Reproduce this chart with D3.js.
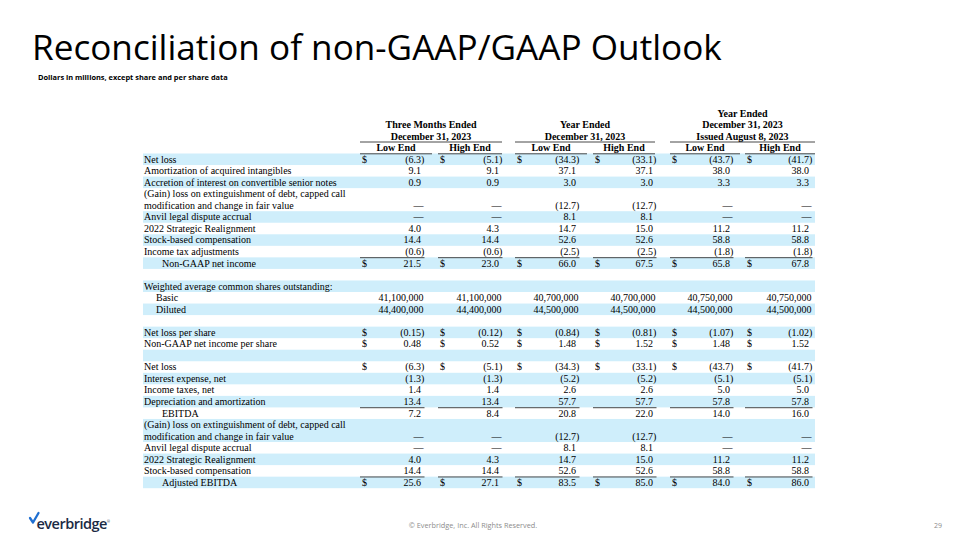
<!DOCTYPE html>
<html><head><meta charset="utf-8">
<script src="https://cdn.jsdelivr.net/npm/d3@7"></script>
<style>
html,body{margin:0;padding:0;background:#fff;}
svg{display:block;}
</style></head>
<body>
<svg id="c" width="960" height="540"></svg>
<script>
// ---------- DATA ----------
const rowLabels = [
  "Net loss",
  "Amortization of acquired intangibles",
  "Accretion of interest on convertible senior notes",
  "(Gain) loss on extinguishment of debt, capped call|modification and change in fair value",
  "Anvil legal dispute accrual",
  "2022 Strategic Realignment",
  "Stock-based compensation",
  "Income tax adjustments",
  "Non-GAAP net income",
  "",
  "Weighted average common shares outstanding:",
  "Basic",
  "Diluted",
  "",
  "Net loss per share",
  "Non-GAAP net income per share",
  "",
  "Net loss",
  "Interest expense, net",
  "Income taxes, net",
  "Depreciation and amortization",
  "EBITDA",
  "(Gain) loss on extinguishment of debt, capped call|modification and change in fair value",
  "Anvil legal dispute accrual",
  "2022 Strategic Realignment",
  "Stock-based compensation",
  "Adjusted EBITDA"
];
// row value kinds: m = $ millions, s = shares, p = per share, "" = none
const rowKinds = ["m","m","m","m","m","m","m","m","m","","","s","s","","p","p","","m","m","m","m","m","m","m","m","m","m"];
const dollarRows = [0, 8, 14, 15, 17, 26];
const indentRows = [8, 11, 12, 21, 26];
const totalRows = [8, 21, 26];

const threeMonthsLow  = [-6.3, 9.1, 0.9, 0, 0, 4.0, 14.4, -0.6, 21.5, null, null, 41100000, 44400000, null, -0.15, 0.48, null, -6.3, -1.3, 1.4, 13.4, 7.2, 0, 0, 4.0, 14.4, 25.6];
const threeMonthsHigh = [-5.1, 9.1, 0.9, 0, 0, 4.3, 14.4, -0.6, 23.0, null, null, 41100000, 44400000, null, -0.12, 0.52, null, -5.1, -1.3, 1.4, 13.4, 8.4, 0, 0, 4.3, 14.4, 27.1];
const yearLow         = [-34.3, 37.1, 3.0, -12.7, 8.1, 14.7, 52.6, -2.5, 66.0, null, null, 40700000, 44500000, null, -0.84, 1.48, null, -34.3, -5.2, 2.6, 57.7, 20.8, -12.7, 8.1, 14.7, 52.6, 83.5];
const yearHigh        = [-33.1, 37.1, 3.0, -12.7, 8.1, 15.0, 52.6, -2.5, 67.5, null, null, 40700000, 44500000, null, -0.81, 1.52, null, -33.1, -5.2, 2.6, 57.7, 22.0, -12.7, 8.1, 15.0, 52.6, 85.0];
const augLow          = [-43.7, 38.0, 3.3, 0, 0, 11.2, 58.8, -1.8, 65.8, null, null, 40750000, 44500000, null, -1.07, 1.48, null, -43.7, -5.1, 5.0, 57.8, 14.0, 0, 0, 11.2, 58.8, 84.0];
const augHigh         = [-41.7, 38.0, 3.3, 0, 0, 11.2, 58.8, -1.8, 67.8, null, null, 40750000, 44500000, null, -1.02, 1.52, null, -41.7, -5.1, 5.0, 57.8, 16.0, 0, 0, 11.2, 58.8, 86.0];

const groupHeaders = [
  ["Three Months Ended", "December 31, 2023"],
  ["Year Ended", "December 31, 2023"],
  ["Year Ended", "December 31, 2023", "Issued August 8, 2023"]
];
const subHeaders = ["Low End", "High End", "Low End", "High End", "Low End", "High End"];

const title = "Reconciliation of non-GAAP/GAAP Outlook";
const subtitle = "Dollars in millions, except share and per share data";
const footerText = "\u00A9 Everbridge, Inc. All Rights Reserved.";
const pageNumber = "29";

// ---------- LAYOUT ----------
const series = [threeMonthsLow, threeMonthsHigh, yearLow, yearHigh, augLow, augHigh];
const colKeys = d3.range(6);
const colLeft = d3.scaleOrdinal().domain(colKeys).range([360, 438, 515, 593, 670, 745]);
const colRight = d3.scaleOrdinal().domain(colKeys).range([432, 502, 587, 655, 740, 815]);
const valRight = d3.scaleOrdinal().domain(colKeys).range([421, 499, 576, 653, 730, 809]);
const groupCols = [[0,1],[2,3],[4,5]];

const svg = d3.select("#c");
const serif = "'Liberation Serif','Times New Roman',serif";
const fs = 10;

// line index per row
const lineStart = [];
let acc = 0;
rowLabels.forEach((l, i) => { lineStart.push(acc); acc += l.includes("|") ? 2 : 1; });
const totalLines = acc;
const y = d3.scaleLinear().domain([0, totalLines]).range([153.5, 488.2]);
const lh = y(1) - y(0);

// shading
svg.append("g").selectAll("rect").data(rowLabels.map((l, i) => i).filter(i => i % 2 === 0))
  .join("rect")
  .attr("x", 143).attr("width", 815 - 143)
  .attr("y", i => y(lineStart[i]))
  .attr("height", i => (rowLabels[i].includes("|") ? 2 : 1) * lh)
  .attr("fill", "#cfeefb");

// labels
const lab = svg.append("g").attr("font-family", serif).attr("font-size", fs).attr("fill", "#000");
rowLabels.forEach((l, i) => {
  const parts = l.split("|");
  const ind = indentRows.includes(i) ? (totalRows.includes(i) ? 18 : 12) : 0;
  parts.forEach((p, k) => {
    lab.append("text").attr("x", 144 + ind)
      .attr("y", y(lineStart[i] + k + 0.5) + 3.4).text(p);
  });
});

// values
const fmtM = d3.format(".1f"), fmtP = d3.format(".2f"), fmtS = d3.format(",");
const vals = svg.append("g").attr("font-family", serif).attr("font-size", fs).attr("fill", "#000");
series.forEach((s, c) => {
  s.forEach((v, i) => {
    if (v === null || v === undefined) return;
    const kind = rowKinds[i];
    const lines = rowLabels[i].includes("|") ? 2 : 1;
    const yy = y(lineStart[i] + lines - 0.5) + 3.4;
    let txt, x = valRight(c);
    if (kind === "s") { txt = fmtS(v); x += 2.5; }
    else if (v === 0) { txt = "\u2014"; x += 2.5; }
    else {
      const f = kind === "p" ? fmtP : fmtM;
      if (v < 0) { txt = "(" + f(-v) + ")"; x += 3.3; } else txt = f(v);
    }
    vals.append("text").attr("x", x).attr("y", yy).attr("text-anchor", "end").text(txt);
    if (dollarRows.includes(i)) {
      vals.append("text").attr("x", colLeft(c) + 2).attr("y", yy).text("$");
    }
  });
});

// total rules
const rules = svg.append("g").attr("stroke", "#333").attr("stroke-width", 0.9);
totalRows.forEach(i => {
  colKeys.forEach(c => {
    rules.append("line")
      .attr("x1", colLeft(c)).attr("x2", valRight(c) + 3.5)
      .attr("y1", y(lineStart[i]) + 0.3).attr("y2", y(lineStart[i]) + 0.3);
  });
});

// headers
const hdr = svg.append("g").attr("font-family", serif).attr("font-size", fs).attr("font-weight", "bold").attr("fill", "#000").attr("text-anchor", "middle");
groupHeaders.forEach((g, gi) => {
  const x0 = colLeft(groupCols[gi][0]), x1 = colRight(groupCols[gi][1]);
  const cx = (x0 + x1) / 2;
  g.forEach((t, k) => {
    const row = 3 - g.length + k; // align bottom
    hdr.append("text").attr("x", cx).attr("y", 116.5 + row * 11.5).text(t);
  });
  rules.append("line").attr("x1", x0).attr("x2", x1).attr("y1", 142).attr("y2", 142);
});
subHeaders.forEach((t, c) => {
  const cx = (colLeft(c) + colRight(c)) / 2;
  hdr.append("text").attr("x", cx).attr("y", 151.2).text(t);
  rules.append("line").attr("x1", colLeft(c)).attr("x2", colRight(c)).attr("y1", 153.8).attr("y2", 153.8);
});

// title
const tt = svg.append("text").attr("x", 32).attr("y", 60)
  .attr("font-family", "'Open Sans', sans-serif").attr("font-size", 40).attr("fill", "#000").text(title);
const tw = tt.node().getComputedTextLength();
tt.attr("font-size", 40 * 690 / tw);

const st = svg.append("text").attr("x", 38).attr("y", 80)
  .attr("font-family", "'Open Sans', sans-serif").attr("font-weight", "bold").attr("font-size", 7).attr("fill", "#000").text(subtitle);
const sw = st.node().getComputedTextLength();
st.attr("font-size", 7 * 190 / sw);

// footer
svg.append("text").attr("x", 473).attr("y", 528).attr("text-anchor", "middle")
  .attr("font-family", "'Open Sans', sans-serif").attr("font-size", 7.3).attr("fill", "#8c8c8c").text(footerText);
svg.append("text").attr("x", 942).attr("y", 528).attr("text-anchor", "end")
  .attr("font-family", "'Open Sans', sans-serif").attr("font-size", 7).attr("fill", "#8c8c8c").text(pageNumber);

// logo
const logo = svg.append("g");
logo.append("path").attr("d", "M30,518 L33,522.5 L38.5,513")
  .attr("fill", "none").attr("stroke", "#1f6fd1").attr("stroke-width", 2.3).attr("stroke-linecap", "round").attr("stroke-linejoin", "round");
logo.append("text").attr("x", 36.5).attr("y", 528.5).attr("font-family", "'Open Sans', sans-serif")
  .attr("font-size", 14.5).attr("font-weight", 600).attr("letter-spacing", -0.5).attr("fill", "#1b2a44").text("everbridge");
logo.append("text").attr("x", 107).attr("y", 523).attr("font-family", "'Open Sans', sans-serif")
  .attr("font-size", 3.5).attr("fill", "#1b2a44").text("\u00AE");
</script>
</body></html>
